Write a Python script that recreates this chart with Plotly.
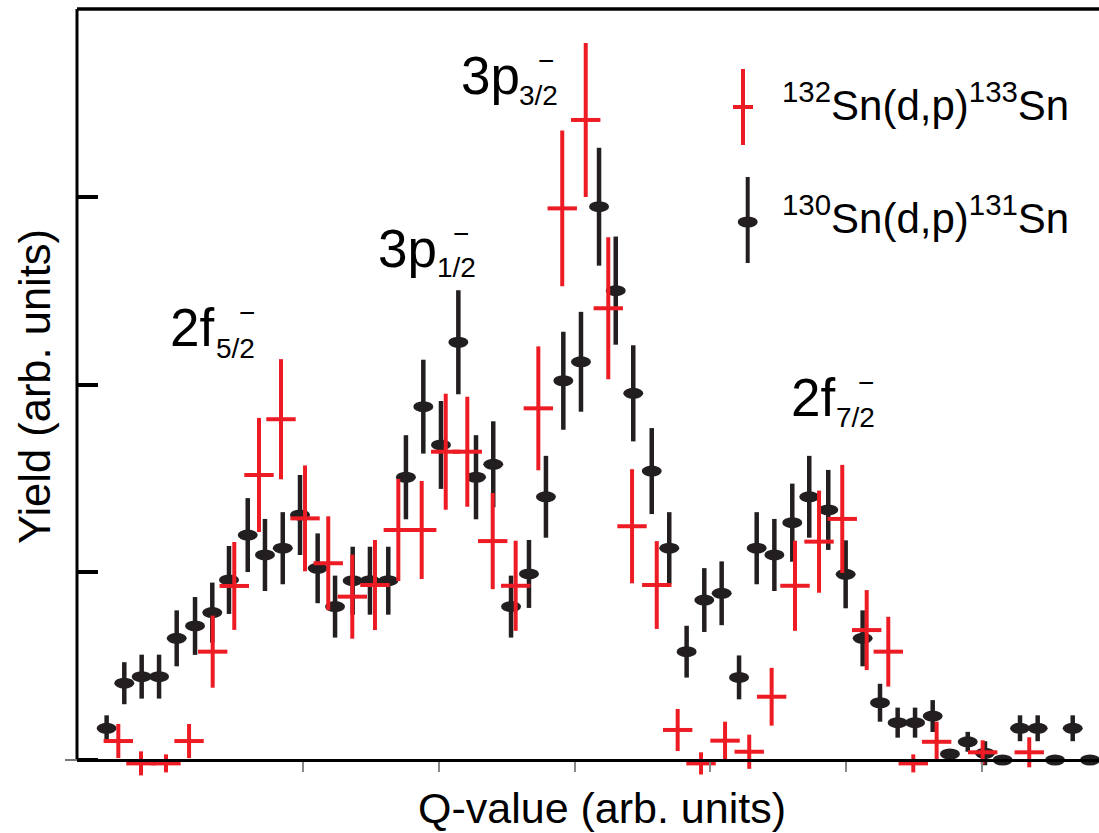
import plotly.graph_objects as go

# ---------------- data ----------------
# 130Sn(d,p)131Sn  (black)
q_130 = [0.554, 0.684, 0.812, 0.940, 1.070, 1.205, 1.332, 1.455, 1.593, 1.720,
         1.851, 1.978, 2.108, 2.236, 2.366, 2.493, 2.628, 2.758, 2.886, 3.016,
         3.144, 3.274, 3.401, 3.532, 3.664, 3.789, 3.917, 4.047, 4.180, 4.303,
         4.432, 4.568, 4.697, 4.825, 4.955, 5.083, 5.211, 5.341, 5.471, 5.603,
         5.728, 5.868, 5.996, 6.121, 6.249, 6.379, 6.507, 6.637, 6.764, 6.895,
         7.022, 7.152, 7.280, 7.410, 7.538, 7.668, 7.795]
y_130 = [16.9, 40.9, 44.4, 44.4, 64.8, 71.4, 78.5, 95.9, 119.8, 109.2,
         112.8, 130.5, 102.1, 81.7, 95.5, 95.5, 95.5, 150.6, 188.2, 167.8,
         222.5, 150.6, 157.5, 81.7, 99.1, 140.2, 202.0, 212.1, 294.7, 250.0,
         195.3, 153.9, 112.8, 57.7, 85.2, 88.8, 44.0, 112.8, 109.2, 126.4,
         140.2, 133.2, 98.9, 64.8, 30.5, 19.9, 19.9, 23.4, 3.2, 9.7,
         3.6, 0.0, 16.9, 16.9, 0.0, 16.9, 0.0]
e_130 = [6.9, 11.2, 11.7, 11.7, 14.9, 15.4, 16.0, 18.1, 19.7, 19.2,
         19.2, 21.3, 18.6, 16.5, 18.1, 18.1, 18.1, 22.4, 25.0, 23.4,
         27.7, 22.4, 22.9, 16.5, 18.1, 21.8, 26.1, 26.6, 31.4, 28.8,
         25.6, 22.9, 19.2, 13.8, 17.0, 17.0, 11.7, 19.2, 19.2, 20.8,
         21.8, 21.3, 18.1, 14.9, 10.1, 8.0, 8.0, 8.5, 0.0, 5.3,
         6.4, 0.0, 6.9, 6.9, 0.0, 6.9, 0.0]

# 132Sn(d,p)133Sn  (red)
q_132 = [0.640, 0.807, 0.991, 1.161, 1.335, 1.494, 1.676, 1.838, 2.015, 2.186,
         2.363, 2.530, 2.702, 2.874, 3.051, 3.210, 3.397, 3.566, 3.733, 3.909,
         4.082, 4.248, 4.423, 4.605, 4.759, 4.931, 5.108, 5.286, 5.451, 5.623,
         5.800, 5.971, 6.151, 6.310, 6.494, 6.666, 7.005, 7.348]
y_132 = [10.1, -1.8, -1.8, 10.1, 57.7, 92.7, 151.8, 181.5, 128.7, 104.8,
         87.0, 93.2, 122.5, 122.5, 164.2, 164.2, 116.6, 92.8, 187.3, 293.8,
         340.9, 240.6, 124.5, 93.2, 16.0, -1.8, 10.3, 4.4, 33.7, 92.8,
         116.3, 128.4, 69.2, 57.7, -1.8, 9.7, 4.1, 4.1]
e_132 = [9.1, 6.4, 4.8, 9.1, 19.2, 23.4, 30.4, 32.0, 28.2, 25.0,
         22.4, 24.0, 27.2, 26.1, 30.9, 29.3, 25.6, 24.0, 33.0, 41.5,
         41.0, 37.8, 30.4, 23.4, 11.2, 5.9, 10.1, 9.1, 15.4, 24.0,
         27.2, 28.8, 21.3, 18.6, 4.8, 10.7, 6.4, 8.0]

x_ticks = [2, 3, 4, 5, 6, 7]
y_ticks = [0, 100, 200, 300, 400]

labels = ["2f", "3p", "3p", "2f"]
label_subs = ["5/2", "1/2", "3/2", "7/2"]
legend_names = ["<sup>132</sup>Sn(d,p)<sup>133</sup>Sn",
                "<sup>130</sup>Sn(d,p)<sup>131</sup>Sn"]

# ---------------- style ----------------
RED = "#ED1C24"
BLK = "#231F20"
FONT = "Liberation Sans, Arial, Helvetica, sans-serif"

W, H = 1099, 833
L, R, T, B = 77, 0, 9, 50
PW, PH = W - L - R, H - T - B


def px(xp):
    return (xp - L) / PW


def py(yp):
    return (H - B - yp) / PH


Y_MIN = -12.25
y0_paper = (0 - Y_MIN) / (400 - Y_MIN)

fig = go.Figure()

fig.add_trace(go.Scatter(
    x=q_130, y=y_130, mode="markers", name=legend_names[1],
    marker=dict(symbol="circle", size=10, color=BLK),
    error_y=dict(type="data", array=e_130, visible=True, color=BLK,
                 thickness=4.5, width=0),
    cliponaxis=False, showlegend=False,
))

fig.add_trace(go.Scatter(
    x=q_132, y=y_132, mode="markers", name=legend_names[0],
    marker=dict(symbol="line-ew", size=21, color=RED,
                line=dict(color=RED, width=4)),
    error_y=dict(type="data", array=e_132, visible=True, color=RED,
                 thickness=4, width=0),
    cliponaxis=False, showlegend=False,
))

shapes = []
# elliptical black markers
for xv, yv in zip(q_130, y_130):
    shapes.append(dict(type="circle", xref="x", yref="y",
                       xsizemode="pixel", ysizemode="pixel",
                       xanchor=xv, yanchor=yv, x0=-10, x1=10, y0=-5.5, y1=5.5,
                       fillcolor=BLK, line=dict(width=0), layer="below"))

# left spine, top frame line, small left extension of the baseline
shapes.append(dict(type="line", xref="paper", yref="paper", x0=0, x1=0,
                   y0=y0_paper, y1=1, line=dict(color="black", width=3)))
shapes.append(dict(type="line", xref="paper", yref="paper", x0=0, x1=1,
                   y0=1, y1=1, line=dict(color="black", width=3.5)))
shapes.append(dict(type="line", xref="paper", yref="paper", x0=px(65), x1=0,
                   y0=y0_paper, y1=y0_paper, line=dict(color="#777", width=2)))

# legend glyphs
shapes.append(dict(type="line", xref="paper", yref="paper", x0=px(743), x1=px(743),
                   y0=py(145), y1=py(69), line=dict(color=RED, width=4)))
shapes.append(dict(type="line", xref="paper", yref="paper", x0=px(733), x1=px(753),
                   y0=py(107), y1=py(107), line=dict(color=RED, width=4)))
shapes.append(dict(type="line", xref="paper", yref="paper", x0=px(747.7), x1=px(747.7),
                   y0=py(263), y1=py(177), line=dict(color=BLK, width=4)))
shapes.append(dict(type="circle", xref="paper", yref="paper",
                   x0=px(737.7), x1=px(757.7), y0=py(227.5), y1=py(216.5),
                   fillcolor=BLK, line=dict(width=0)))

annotations = []


def add_text(text, xp, yp, size, xanchor="left", yanchor="bottom", angle=0):
    annotations.append(dict(text=text, x=px(xp), y=py(yp), xref="paper", yref="paper",
                            xanchor=xanchor, yanchor=yanchor, showarrow=False,
                            textangle=angle, borderpad=0, borderwidth=0,
                            font=dict(family=FONT, size=size, color="black")))


MAIN, SUB = 53, 28
# (main-text left, main baseline, sub left, sub baseline, bar centre x, bar y)
label_pos = [
    (170.4, 346, 216, 358, 246.5, 313),
    (378, 267, 437, 277, 460.5, 233),
    (461, 94, 519, 105, 545.5, 60),
    (791, 416, 836, 427, 865.5, 382),
]
for txt, sub, (mx, mb, sx, sb, bx, by) in zip(labels, label_subs, label_pos):
    add_text(txt, mx, mb + 0.212 * MAIN, MAIN)
    add_text(sub, sx, sb + 0.212 * SUB, SUB)
    add_text("\u2212", bx, by, SUB, xanchor="center", yanchor="middle")

# legend text
LEG = 42
add_text(legend_names[0], 782, 120 + 0.212 * LEG, LEG)
add_text(legend_names[1], 782, 233 + 0.212 * LEG, LEG)

# axis titles
add_text("Q-value (arb. units)", 601.5, 823 + 0.212 * 43, 43, xanchor="center")
add_text("Yield (arb. units)", 35, 387, 43.5, xanchor="center", yanchor="middle", angle=-90)

fig.update_layout(
    width=W, height=H,
    margin=dict(l=L, r=R, t=T, b=B, pad=0),
    paper_bgcolor="white", plot_bgcolor="white",
    showlegend=False,
    shapes=shapes, annotations=annotations,
    xaxis=dict(range=[0.3358, 7.8616], anchor="free", position=y0_paper,
               showline=True, linecolor="black", linewidth=3,
               ticks="outside", tickvals=x_ticks, ticklen=10, tickwidth=2,
               tickcolor="#888", showticklabels=False, showgrid=False,
               zeroline=False),
    yaxis=dict(range=[Y_MIN, 400], showline=False,
               ticks="inside", tickvals=y_ticks, ticklen=21, tickwidth=4,
               tickcolor="black", showticklabels=False, showgrid=False,
               zeroline=False),
)

fig.write_html("out.html")
